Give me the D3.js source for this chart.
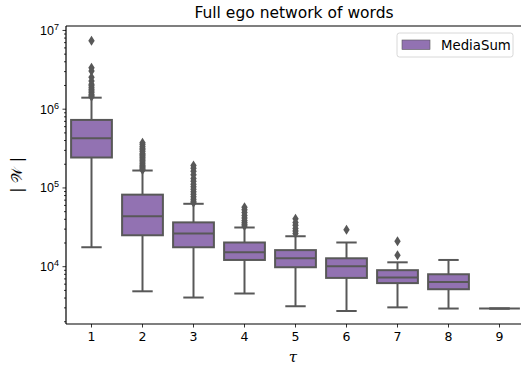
<!DOCTYPE html>
<html>
<head>
<meta charset="utf-8">
<script src="https://cdn.jsdelivr.net/npm/d3@7"></script>
<style>
  body { margin: 0; background: #fff; }
  svg { display: block; font-family: "DejaVu Sans", sans-serif; }
</style>
</head>
<body>
<div id="plot-area"><svg></svg></div>
<script>
// data (values of |W| per tau)
const taus = [1, 2, 3, 4, 5, 6, 7, 8, 9];
const whiskerLow = [1.74e4, 4.8e3, 4.0e3, 4.5e3, 3.1e3, 2.7e3, 3.0e3, 2.9e3, 2.9e3];
const q1 = [2.4e5, 2.47e4, 1.74e4, 1.2e4, 9.7e3, 7.1e3, 6.1e3, 5.1e3, 2.9e3];
const medians = [4.2e5, 4.3e4, 2.6e4, 1.5e4, 1.26e4, 1.0e4, 7.2e3, 6.3e3, 2.9e3];
const q3 = [7.2e5, 8.1e4, 3.6e4, 2.0e4, 1.6e4, 1.26e4, 8.9e3, 7.9e3, 2.9e3];
const whiskerHigh = [1.38e6, 1.64e5, 6.2e4, 3.1e4, 2.4e4, 2.0e4, 1.12e4, 1.2e4, 2.9e3];
const outliers = [
    [7.3e6, 3.3e6, 3.0e6, 2.5e6, 2.25e6, 2.05e6, 1.95e6, 1.85e6, 1.75e6, 1.68e6, 1.6e6, 1.53e6, 1.47e6, 1.42e6],
    [3.7e5, 3.5e5, 3.3e5, 3.15e5, 3.0e5, 2.85e5, 2.7e5, 2.6e5, 2.5e5, 2.4e5, 2.3e5, 2.2e5, 2.1e5, 2.0e5, 1.92e5, 1.85e5, 1.78e5, 1.72e5, 1.67e5],
    [1.9e5, 1.75e5, 1.6e5, 1.45e5, 1.3e5, 1.2e5, 1.1e5, 1.02e5, 9.5e4, 8.8e4, 8.2e4, 7.6e4, 7.1e4, 6.7e4, 6.4e4],
    [5.6e4, 5.2e4, 4.8e4, 4.4e4, 4.1e4, 3.8e4, 3.6e4, 3.4e4, 3.25e4],
    [4.0e4, 3.6e4, 3.3e4, 3.0e4, 2.8e4, 2.6e4],
    [2.9e4],
    [2.08e4, 1.38e4],
    [],
    []
];
const yTicks = [1e4, 1e5, 1e6, 1e7];
const seriesName = 'MediaSum';

const fill = '#9272b2';
const gray = '#585858';

let margin = {top: 26, right: 0, bottom: 42, left: 66},
    width = 459,
    height = 366 - margin.top - margin.bottom;

let svg = d3.select('#plot-area').select('svg')
    .attr('width', 521)
    .attr('height', 366);

let x = d3.scaleBand().domain(taus).range([0, width]).padding(0);
let y = d3.scaleLog().domain([Math.pow(10, 3.266), Math.pow(10, 7.05)]).range([height, 0]);

let g = svg.append('g')
    .attr('transform', 'translate(' + margin.left + ',' + margin.top + ')');

const boxW = x.bandwidth() * 0.8;

// boxes
let box = g.selectAll('.box')
    .data(taus)
    .enter().append('g')
    .attr('class', 'box')
    .attr('transform', function (d) { return 'translate(' + (x(d) + x.bandwidth() / 2) + ',0)'; });

// whiskers
box.append('line')
    .attr('x1', 0).attr('x2', 0)
    .attr('y1', function (d, i) { return y(whiskerHigh[i]); })
    .attr('y2', function (d, i) { return y(q3[i]); })
    .style('stroke', gray).style('stroke-width', 2);
box.append('line')
    .attr('x1', 0).attr('x2', 0)
    .attr('y1', function (d, i) { return y(q1[i]); })
    .attr('y2', function (d, i) { return y(whiskerLow[i]); })
    .style('stroke', gray).style('stroke-width', 2);

// caps
[whiskerHigh, whiskerLow].forEach(function (arr) {
    box.append('line')
        .attr('x1', -boxW / 4).attr('x2', boxW / 4)
        .attr('y1', function (d, i) { return y(arr[i]); })
        .attr('y2', function (d, i) { return y(arr[i]); })
        .style('stroke', gray).style('stroke-width', 2);
});

box.append('rect')
    .attr('x', -boxW / 2)
    .attr('width', boxW)
    .attr('y', function (d, i) { return y(q3[i]); })
    .attr('height', function (d, i) { return Math.max(0, y(q1[i]) - y(q3[i])); })
    .style('fill', fill)
    .style('stroke', gray)
    .style('stroke-width', 2);

box.append('line')
    .attr('x1', -boxW / 2).attr('x2', boxW / 2)
    .attr('y1', function (d, i) { return y(medians[i]); })
    .attr('y2', function (d, i) { return y(medians[i]); })
    .style('stroke', gray).style('stroke-width', 2);

// outliers as thin diamonds
box.each(function (d, i) {
    d3.select(this).selectAll('.flier')
        .data(outliers[i])
        .enter().append('path')
        .attr('class', 'flier')
        .attr('d', function (v) {
            let cy = y(v);
            return 'M0,' + (cy - 5) + 'L3.2,' + cy + 'L0,' + (cy + 5) + 'L-3.2,' + cy + 'Z';
        })
        .style('fill', gray);
});

// axes
let yAxis = g.append('g')
    .attr('class', 'yaxis')
    .call(d3.axisLeft(y).tickValues(yTicks).tickSize(3.5).tickFormat(''));
yAxis.select('.domain').remove();

let minor = [];
for (let e = 3; e <= 7; e++) {
    for (let m = 2; m <= 9; m++) {
        let v = m * Math.pow(10, e);
        if (v >= y.domain()[0] && v <= y.domain()[1]) minor.push(v);
    }
}
g.append('g')
    .call(d3.axisLeft(y).tickValues(minor).tickSize(2).tickFormat(''))
    .select('.domain').remove();

g.selectAll('.tick line').style('stroke', '#000').style('stroke-width', 0.8);

yAxis.selectAll('.tick').each(function (v) {
    let t = d3.select(this).append('text')
        .attr('x', -7)
        .attr('dy', '0.35em')
        .attr('text-anchor', 'end')
        .style('font-size', '12.5px')
        .style('fill', '#000');
    t.append('tspan').text('10');
    t.append('tspan')
        .attr('dy', '-0.55em')
        .style('font-size', '9px')
        .text(Math.round(Math.log10(v)));
});

let xAxis = g.append('g')
    .attr('transform', 'translate(0,' + height + ')')
    .call(d3.axisBottom(x).tickSize(3.5).tickSizeOuter(0));
xAxis.select('.domain').remove();
xAxis.selectAll('.tick line').style('stroke', '#000').style('stroke-width', 0.8);
xAxis.selectAll('.tick text')
    .attr('y', 8)
    .style('font-size', '12.5px')
    .style('font-family', '"DejaVu Sans", sans-serif')
    .style('fill', '#000');

// spines
g.append('line').attr('x1', 0).attr('x2', 0).attr('y1', 0).attr('y2', height)
    .style('stroke', '#000').style('stroke-width', 1.2);
g.append('line').attr('x1', 0).attr('x2', width).attr('y1', height).attr('y2', height)
    .style('stroke', '#000').style('stroke-width', 1.2);
g.append('line').attr('x1', 0).attr('x2', width).attr('y1', 0).attr('y2', 0)
    .style('stroke', '#000').style('stroke-width', 1.2);

// labels
svg.append('text')
    .attr('x', 294)
    .attr('y', 18)
    .attr('text-anchor', 'middle')
    .style('font-size', '15.5px')
    .text('Full ego network of words');

svg.append('text')
    .attr('x', 293)
    .attr('y', 362)
    .attr('text-anchor', 'middle')
    .style('font-size', '15px')
    .style('font-style', 'italic')
    .style('font-family', '"DejaVu Serif", serif')
    .text('τ');

svg.append('text')
    .attr('transform', 'translate(22,175) rotate(-90)')
    .attr('text-anchor', 'middle')
    .style('font-size', '15px')
    .text('| 𝒲 |');

// legend
let legend = svg.append('g').attr('transform', 'translate(397,33)');
legend.append('rect')
    .attr('width', 116).attr('height', 24).attr('rx', 2.5)
    .style('fill', '#fff').style('stroke', '#d8d8d8').style('stroke-width', 1);
legend.append('rect')
    .attr('x', 5).attr('y', 7).attr('width', 28).attr('height', 9.5)
    .style('fill', fill).style('stroke', gray).style('stroke-width', 0.6);
legend.append('text')
    .attr('x', 44).attr('y', 16.5)
    .style('font-size', '13.3px')
    .text(seriesName);
</script>
</body>
</html>
